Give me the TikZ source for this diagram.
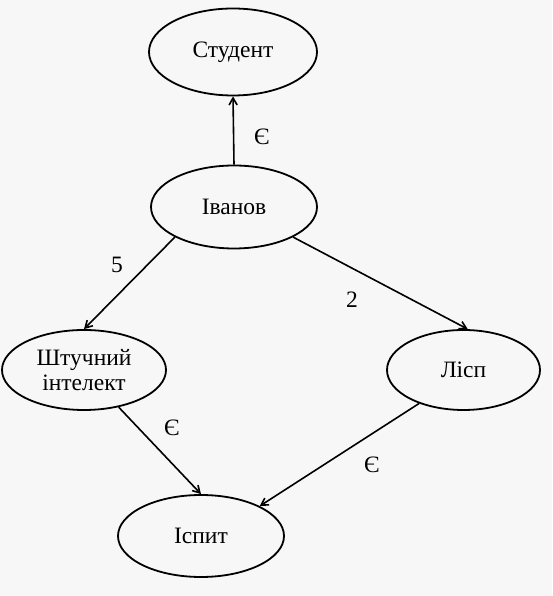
\documentclass[tikz,border=0pt]{standalone}
\usepackage{fontspec}
\setmainfont{Liberation Serif}
\usetikzlibrary{shapes.geometric,arrows.meta}
\tikzset{
  conc/.style={ellipse, draw, line width=1.8pt, inner sep=0pt, align=center,
    font=\fontsize{23.5}{25}\selectfont},
  link/.style={line width=1.6pt, -{Straight Barb[length=7pt,width=8pt]}},
  lbl/.style={font=\fontsize{23.5}{25}\selectfont, inner sep=0pt}
}
\begin{document}
\begin{tikzpicture}[x=1pt,y=1pt]
\path[fill=gray!6] (0,0) rectangle (552,596);
\useasboundingbox (0,0) rectangle (552,596);
\node[conc, minimum width=168pt, minimum height=87pt] (student) at (233,544) {Студент};
\node[conc, minimum width=166pt, minimum height=83pt] (ivanov) at (234,389) {Іванов};
\node[conc, minimum width=164pt, minimum height=80pt] (ai) at (84,226) {Штучний\\інтелект};
\node[conc, minimum width=153pt, minimum height=80pt] (lisp) at (463.5,226) {Лісп};
\node[conc, minimum width=166pt, minimum height=82pt] (exam) at (201,60) {Іспит};
\draw[link] (ivanov.90) -- (student.270);
\draw[link] (ivanov.207) -- (ai.90);
\draw[link] (ivanov.333) -- (lisp.84);
\draw[link] (ai.313) -- (exam.90);
\draw[link] (lisp.217) -- (exam.27);
\node[lbl] (l1) at (262,459) {Є};
\node[lbl] (l2) at (117,331) {5};
\node[lbl] (l3) at (352,296) {2};
\node[lbl] (l4) at (172,168) {Є};
\node[lbl] (l5) at (372,131) {Є};
\end{tikzpicture}
\end{document}
